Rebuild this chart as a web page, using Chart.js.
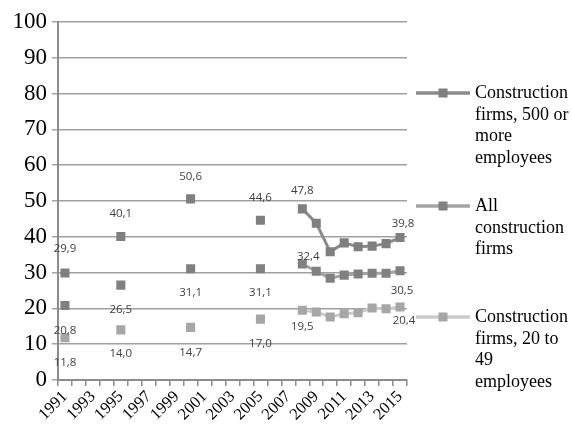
<!DOCTYPE html>
<html>
<head>
<meta charset="utf-8">
<script src="https://cdn.jsdelivr.net/npm/chart.js@4"></script>
<style>
    html, body { margin: 0; padding: 0; background: #fff; }
    #wrap { width: 572px; height: 425px; }
</style>
</head>
<body>
<div id="wrap"><canvas id="firmsChart" width="572" height="425"></canvas></div>
<script>
const years = ['1991', '1992', '1993', '1994', '1995', '1996', '1997', '1998', '1999', '2000',
    '2001', '2002', '2003', '2004', '2005', '2006', '2007', '2008', '2009', '2010',
    '2011', '2012', '2013', '2014', '2015'];

const bigFirms = [29.9, null, null, null, 40.1, null, null, null, null, 50.6,
    null, null, null, null, 44.6, null, null, 47.8, 43.8, 35.8,
    38.3, 37.2, 37.4, 38.1, 39.8];
const allFirms = [20.8, null, null, null, 26.5, null, null, null, null, 31.1,
    null, null, null, null, 31.1, null, null, 32.4, 30.4, 28.4,
    29.3, 29.6, 29.8, 29.8, 30.5];
const smallFirms = [11.8, null, null, null, 14.0, null, null, null, null, 14.7,
    null, null, null, null, 17.0, null, null, 19.5, 19.0, 17.6,
    18.5, 18.8, 20.1, 19.9, 20.4];

const seriesNames = [
    ['Construction', 'firms, 500 or', 'more', 'employees'],
    ['All', 'construction', 'firms'],
    ['Construction', 'firms, 20 to', '49', 'employees']
];
const yTicks = [0, 10, 20, 30, 40, 50, 60, 70, 80, 90, 100];
const labelledYears = ['1991', '1995', '2000', '2005', '2008', '2015'];

document.addEventListener('DOMContentLoaded', function() {
    const ctx = document.getElementById('firmsChart').getContext('2d');

    // value labels: offsets per series, in the order of labelledYears
    const valueLabels = {
        id: 'valueLabels',
        afterDatasetsDraw(chart, args, opts) {
            const c = chart.ctx;
            c.save();
            c.font = '11.5px "Open Sans"';
            c.fillStyle = '#404040';
            c.textAlign = 'center';
            c.textBaseline = 'middle';
            opts.offsets.forEach((off, di) => {
                const meta = chart.getDatasetMeta(di);
                const data = chart.data.datasets[di].data;
                labelledYears.forEach((yr, k) => {
                    const i = years.indexOf(yr);
                    const pt = meta.data[i];
                    if (!pt || data[i] == null) return;
                    const txt = data[i].toFixed(1).replace('.', ',');
                    c.fillText(txt, pt.x + off.dx[k], pt.y + off.dy[k]);
                });
            });
            c.restore();
        }
    };

    // legend on the right, with wrapped text
    const sideLegend = {
        id: 'sideLegend',
        afterDraw(chart, args, opts) {
            const c = chart.ctx;
            const x0 = chart.chartArea.right + 9;
            c.save();
            chart.data.datasets.forEach((ds, di) => {
                const y = opts.rows[di];
                c.strokeStyle = ds.borderColor;
                c.lineWidth = 3.5;
                c.beginPath();
                c.moveTo(x0, y);
                c.lineTo(x0 + 54, y);
                c.stroke();
                c.fillStyle = ds.pointBackgroundColor;
                c.fillRect(x0 + 27 - 4.5, y - 4.5, 9, 9);
                c.fillStyle = '#000';
                c.font = '18px "Liberation Serif"';
                c.textAlign = 'left';
                c.textBaseline = 'middle';
                seriesNames[di].forEach((line, li) => {
                    c.fillText(line, x0 + 59, y + li * 21.8);
                });
            });
            c.restore();
        }
    };

    function series(label, values, line, marker) {
        return {
            label: label,
            data: values,
            borderColor: line,
            backgroundColor: marker,
            pointBackgroundColor: marker,
            pointBorderColor: marker,
            pointStyle: 'rect',
            pointRadius: 6.4,
            pointBorderWidth: 0,
            borderWidth: 3,
            spanGaps: false,
            tension: 0
        };
    }

    new Chart(ctx, {
        type: 'line',
        data: {
            labels: years,
            datasets: [
                series(seriesNames[0].join(' '), bigFirms, '#8a8a8a', '#7f7f7f'),
                series(seriesNames[1].join(' '), allFirms, '#a3a3a3', '#808080'),
                series(seriesNames[2].join(' '), smallFirms, '#cbcbcb', '#a6a6a6')
            ]
        },
        options: {
            responsive: false,
            devicePixelRatio: 1,
            animation: false,
            layout: { padding: { left: 0, right: 165, top: 22, bottom: 0 } },
            plugins: {
                legend: { display: false },
                tooltip: { enabled: false },
                valueLabels: {
                    offsets: [
                        { dy: [-24, -23, -22, -23, -18, -14], dx: [0, 0, 0, 0, 0, 3] },
                        { dy: [25, 25, 24, 24, -7, 20], dx: [0, 0, 0, 0, 6, 2] },
                        { dy: [25, 24, 25, 25, 17, 14], dx: [0, 0, 0, 0, 0, 4] }
                    ]
                },
                sideLegend: { rows: [93, 206, 317] }
            },
            scales: {
                x: {
                    offset: true,
                    afterFit(scale) { scale.height = 45; },
                    grid: {
                        display: true,
                        offset: true,
                        drawOnChartArea: false,
                        drawTicks: true,
                        tickLength: 6,
                        color: '#8c8c8c',
                        lineWidth: 1.5
                    },
                    border: { display: true, color: '#8c8c8c', width: 2 },
                    ticks: {
                        autoSkip: false,
                        maxRotation: 45,
                        minRotation: 45,
                        padding: 1,
                        color: '#000',
                        font: { family: '"Liberation Serif"', size: 16.5 },
                        callback: function(val, i) { return i % 2 === 0 ? years[i] : ''; }
                    }
                },
                y: {
                    min: yTicks[0],
                    max: yTicks[yTicks.length - 1],
                    afterFit(scale) { scale.width = 58; },
                    afterBuildTicks(scale) { scale.ticks = yTicks.map(v => ({ value: v })); },
                    grid: {
                        color: '#a0a0a0',
                        lineWidth: 1.5,
                        drawTicks: true,
                        tickLength: 6
                    },
                    border: { display: true, color: '#8c8c8c', width: 2 },
                    ticks: {
                        padding: 5,
                        color: '#000',
                        font: { family: '"Liberation Serif"', size: 23 }
                    }
                }
            }
        },
        plugins: [valueLabels, sideLegend]
    });
});
</script>
</body>
</html>
